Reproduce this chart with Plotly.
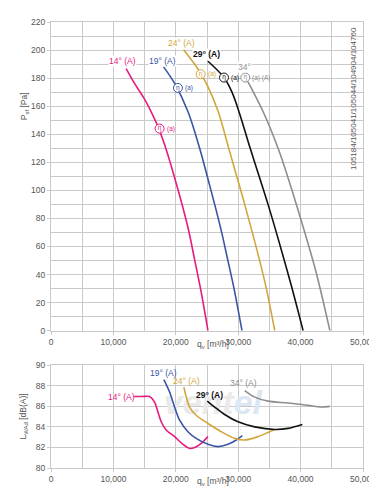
import plotly.graph_objects as go

# ---- data ----
pink_q = [12040, 13390, 14990, 16050, 17130, 18200, 19810, 21940, 23020, 24000, 25150]
pink_p = [186.8, 176.2, 165.0, 156.0, 145.6, 132.6, 109.0, 73.7, 50.5, 29.0, 0]
blue_q = [18040, 19810, 21940, 23820, 25040, 26230, 27350, 28360, 29330, 30610]
blue_p = [188.0, 176.2, 156.2, 130.0, 110.0, 90.0, 70.0, 49.7, 30.0, 0]
gold_q = [21250, 23550, 25150, 26760, 28420, 29700, 31040, 33450, 34510, 35860]
gold_p = [200.2, 186.5, 174.0, 156.5, 131.0, 111.0, 90.0, 49.7, 30.0, 0]
black_q = [25150, 27720, 29000, 30200, 31850, 33290, 34780, 36500, 38520, 40400]
black_p = [192.0, 180.4, 170.0, 155.0, 131.0, 111.0, 90.0, 64.0, 32.0, 0]
grey_q = [31570, 33980, 36390, 38200, 40130, 42400, 44690]
grey_p = [177.4, 156.2, 130.0, 106.0, 78.0, 43.0, 0]

pink_lq = [13280, 14500, 15790, 16600, 17130, 17660, 18460, 19810, 21140, 22210, 23020, 24080, 25150]
pink_l = [86.95, 86.95, 86.95, 86.4, 85.45, 84.5, 83.7, 83.05, 82.3, 81.9, 82.0, 82.4, 83.05]
blue_lq = [18090, 19000, 19810, 20610, 21940, 23270, 25150, 26760, 28360, 29700, 30660]
blue_l = [88.6, 87.4, 85.93, 84.65, 83.53, 82.88, 82.3, 82.08, 82.3, 82.72, 83.14]
gold_lq = [21300, 21670, 22210, 23270, 25150, 27290, 29440, 31040, 33180, 34780, 35860]
gold_l = [87.86, 86.9, 85.93, 85.13, 84.33, 83.53, 82.88, 82.72, 83.05, 83.46, 83.75]
black_lq = [25040, 26230, 27830, 29970, 32650, 35860, 37990, 40290]
black_l = [86.51, 85.93, 85.2, 84.49, 84.0, 83.75, 83.85, 84.23]
grey_lq = [31040, 32650, 34780, 37990, 41200, 43340, 44690]
grey_l = [87.53, 86.89, 86.5, 86.32, 86.09, 85.93, 85.99]

names = ["14° (A)", "19° (A)", "24° (A)", "29° (A)", "34°"]
colors = ["#e8197f", "#3a55a6", "#d2a63c", "#111111", "#8e8e8e"]
top_label_pos = [(11510, 192.2), (17930, 192.2), (20870, 205.0), (24880, 197.4), (31040, 188.0)]
eta_pos = [(17400, 144.0), (20340, 173.0), (23980, 182.8), (27720, 180.4), (31140, 180.4)]
bot_names = ["14° (A)", "19° (A)", "24° (A)", "29° (A)", "34° (A)"]
bot_label_pos = [(11240, 86.95), (18090, 89.2), (21780, 88.43), (25420, 87.05), (30770, 88.27)]
watermark_pos = (25950, 86.06)

top_q = [pink_q, blue_q, gold_q, black_q, grey_q]
top_p = [pink_p, blue_p, gold_p, black_p, grey_p]
bot_q = [pink_lq, blue_lq, gold_lq, black_lq, grey_lq]
bot_l = [pink_l, blue_l, gold_l, black_l, grey_l]

x_ticks = [0, 10000, 20000, 30000, 40000, 50000]
x_ticklabels = ["0", "10,000", "20,000", "30,000", "40,000", "50,000"]

W, H = 377, 487
ml, mr, mt, mb = 43, 22, 9, 27
pw = W - ml - mr

fig = go.Figure()
# faint watermark (below curves)
fig.add_trace(go.Scatter(x=[watermark_pos[0]], y=[watermark_pos[1]], mode="text",
                         text=["<b><i>vent<span style='color:#dbe8f3'>el</span></i></b>"],
                         textfont=dict(size=34, color="#eaeaea", family="Liberation Sans"),
                         xaxis="x2", yaxis="y2", showlegend=False, hoverinfo="skip"))
for i in range(5):
    fig.add_trace(go.Scatter(x=top_q[i], y=top_p[i], mode="lines",
                             line=dict(color=colors[i], width=1.6, shape="spline", smoothing=1.0),
                             xaxis="x", yaxis="y", showlegend=False, hoverinfo="skip"))
    fig.add_trace(go.Scatter(x=bot_q[i], y=bot_l[i], mode="lines",
                             line=dict(color=colors[i], width=1.6, shape="spline", smoothing=0.8),
                             xaxis="x2", yaxis="y2", showlegend=False, hoverinfo="skip"))
    fig.add_trace(go.Scatter(x=[eta_pos[i][0]], y=[eta_pos[i][1]], mode="markers+text", text=["η"],
                             textfont=dict(size=6.5, color=colors[i], family="Liberation Sans"),
                             textposition="middle center",
                             marker=dict(symbol="circle", size=9, color="white", line=dict(width=1, color=colors[i])),
                             xaxis="x", yaxis="y", showlegend=False, hoverinfo="skip"))

ann = []
for i in range(5):
    bold = i == 3
    ann.append(dict(x=top_label_pos[i][0], y=top_label_pos[i][1], xref="x", yref="y",
                    text=("<b>%s</b>" % names[i]) if bold else names[i],
                    showarrow=False, font=dict(size=8.5, color=colors[i], family="Liberation Sans"),
                    bgcolor="white", borderpad=0))
    ann.append(dict(x=eta_pos[i][0], y=eta_pos[i][1], xref="x", yref="y", text="(a)" + (" (A)" if i == 4 else ""),
                    showarrow=False, xanchor="left", xshift=5,
                    font=dict(size=6.5, color=colors[i], family="Liberation Sans")))
    ann.append(dict(x=bot_label_pos[i][0], y=bot_label_pos[i][1], xref="x2", yref="y2",
                    text=("<b>%s</b>" % bot_names[i]) if bold else bot_names[i],
                    showarrow=False, font=dict(size=8.5, color=colors[i], family="Liberation Sans")))

ann.append(dict(x=0.5, y=0.308, xref="paper", yref="paper", yshift=-21, xshift=6, text="q<sub>v</sub> [m³/h]",
                showarrow=False, font=dict(size=8.5, color="#555")))
ann.append(dict(x=0.5, y=0.0, xref="paper", yref="paper", yshift=-21, xshift=6, text="q<sub>v</sub> [m³/h]",
                showarrow=False, font=dict(size=8.5, color="#555")))
ann.append(dict(x=(16 - ml) / pw, y=160, xref="paper", yref="y", xanchor="center", yanchor="middle",
                text="P<sub>sf</sub> [Pa]", textangle=-90, showarrow=False, font=dict(size=8.5, color="#555")))
ann.append(dict(x=(16 - ml) / pw, y=85, xref="paper", yref="y2", xanchor="center", yanchor="middle",
                text="L<sub>WAd</sub> [dB(A)]", textangle=-90, showarrow=False, font=dict(size=8.5, color="#555")))
ann.append(dict(x=1.0, y=1.0, xref="paper", yref="paper", xanchor="right", yanchor="top", xshift=-3, yshift=-3,
                text="105184/105041/105044/104904/104760", textangle=-90, showarrow=False,
                font=dict(size=8, color="#555")))

grid = "#c9c9c9"
axis_common = dict(showline=True, linecolor=grid, mirror=True, ticks="outside", ticklen=3, tickcolor=grid,
                   tickfont=dict(size=8.5, color="#555", family="Liberation Sans"), zeroline=False,
                   gridcolor=grid, gridwidth=1)

fig.update_layout(
    width=W, height=H, margin=dict(l=ml, r=mr, t=mt, b=mb),
    paper_bgcolor="white", plot_bgcolor="white",
    font=dict(family="Liberation Sans", color="#555"),
    xaxis=dict(domain=[0, 1], anchor="y", range=[0, 50000], tickvals=x_ticks, ticktext=x_ticklabels,
               minor=dict(dtick=5000, showgrid=True, gridcolor=grid, tick0=0), **axis_common),
    yaxis=dict(domain=[0.308, 1], anchor="x", range=[0, 220], dtick=20,
               minor=dict(dtick=10, showgrid=True, gridcolor=grid, tick0=0), **axis_common),
    xaxis2=dict(domain=[0, 1], anchor="y2", range=[0, 50000], tickvals=x_ticks, ticktext=x_ticklabels,
                minor=dict(dtick=5000, showgrid=True, gridcolor=grid, tick0=0), **axis_common),
    yaxis2=dict(domain=[0, 0.2306], anchor="x2", range=[80, 90], dtick=2, **axis_common),
    annotations=ann,
)

fig.write_html("out.html")
